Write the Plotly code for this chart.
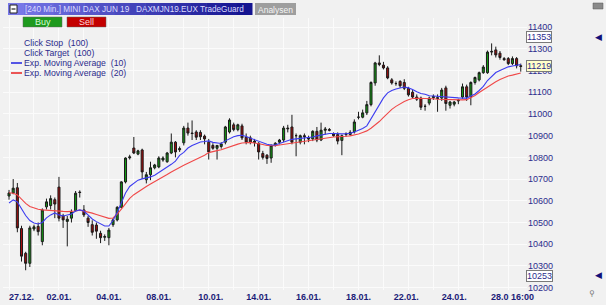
import plotly.graph_objects as go

# ---------------- data ----------------
opens = [10622, 10636, 10660, 10472, 10358, 10312, 10470, 10482, 10412, 10572,
         10578, 10605, 10663, 10530, 10505, 10520, 10555, 10640, 10558, 10520,
         10490, 10488, 10450, 10432, 10430, 10490, 10512, 10570, 10687, 10798,
         10843, 10815, 10834, 10697, 10720, 10752, 10756, 10788, 10780, 10820,
         10870, 10835, 10867, 10935, 10912, 10917, 10915, 10898, 10870, 10855,
         10842, 10850, 10870, 10917, 10950, 10928, 10945, 10893, 10890, 10868,
         10865, 10818, 10810, 10797, 10855, 10870, 10880, 10935, 10940, 10900,
         10870, 10900, 10890, 10885, 10920, 10880, 10925, 10928, 10910, 10905,
         10878, 10905, 10905, 10917, 10985, 10985, 11005, 11043, 11143, 11235,
         11225, 11212, 11157, 11140, 11150, 11145, 11118, 11100, 11078, 11073,
         11035, 11050, 11075, 11075, 11073, 11120, 11040, 11045, 11060, 11078,
         11125, 11078, 11145, 11157, 11190, 11190, 11285, 11295, 11280, 11255,
         11255, 11232, 11255, 11222]
highs = [10650, 10700, 10682, 10485, 10365, 10485, 10490, 10500, 10565, 10610,
         10625, 10615, 10710, 10540, 10530, 10560, 10645, 10648, 10580, 10530,
         10510, 10500, 10462, 10445, 10475, 10520, 10575, 10690, 10800, 10812,
         10894, 10835, 10840, 10733, 10780, 10770, 10805, 10805, 10825, 10910,
         10875, 10850, 10945, 10960, 10970, 10925, 10925, 10905, 10885, 10865,
         10855, 10870, 10945, 10980, 10960, 10955, 10955, 10910, 10900, 10885,
         10870, 10830, 10815, 10860, 10870, 10885, 10945, 10950, 10996, 10910,
         10905, 10910, 10900, 10925, 10940, 10960, 10940, 10935, 10915, 10915,
         10905, 10915, 10925, 10975, 11010, 11020, 11060, 11150, 11240, 11270,
         11240, 11220, 11165, 11150, 11155, 11160, 11125, 11110, 11090, 11080,
         11045, 11080, 11090, 11090, 11120, 11130, 11060, 11060, 11070, 11140,
         11135, 11150, 11172, 11195, 11225, 11292, 11325, 11310, 11290, 11262,
         11262, 11265, 11262, 11232]
lows = [10605, 10630, 10455, 10320, 10280, 10295, 10460, 10440, 10395, 10560,
        10560, 10520, 10505, 10475, 10390, 10500, 10550, 10615, 10525, 10480,
        10440, 10425, 10405, 10415, 10395, 10480, 10505, 10565, 10680, 10790,
        10815, 10810, 10700, 10680, 10695, 10745, 10750, 10780, 10775, 10815,
        10800, 10825, 10855, 10900, 10880, 10880, 10880, 10860, 10790, 10835,
        10790, 10840, 10860, 10910, 10920, 10920, 10880, 10860, 10860, 10850,
        10790, 10790, 10770, 10775, 10850, 10860, 10870, 10915, 10860, 10805,
        10860, 10860, 10870, 10875, 10870, 10875, 10905, 10920, 10895, 10860,
        10810, 10895, 10900, 10910, 10975, 10980, 10995, 11035, 11130, 11220,
        11205, 11160, 11135, 11130, 11120, 11110, 11080, 11070, 11060, 11018,
        11015, 11040, 11065, 11010, 11060, 11015, 11025, 11035, 11045, 11070,
        11060, 11040, 11135, 11150, 11185, 11185, 11270, 11260, 11250, 11245,
        11225, 11225, 11210, 11195]
closes = [10636, 10658, 10475, 10345, 10312, 10475, 10480, 10458, 10558, 10595,
          10610, 10585, 10520, 10512, 10515, 10548, 10635, 10638, 10535, 10500,
          10455, 10460, 10430, 10435, 10465, 10512, 10570, 10687, 10797, 10802,
          10820, 10830, 10733, 10720, 10752, 10765, 10797, 10797, 10820, 10870,
          10825, 10840, 10935, 10912, 10910, 10893, 10895, 10885, 10825, 10842,
          10855, 10862, 10940, 10972, 10928, 10950, 10890, 10870, 10870, 10875,
          10825, 10800, 10795, 10855, 10865, 10880, 10935, 10932, 10870, 10900,
          10900, 10895, 10885, 10920, 10880, 10925, 10930, 10925, 10900, 10875,
          10900, 10908, 10915, 10963, 10985, 11005, 11043, 11145, 11235, 11228,
          11212, 11166, 11143, 11140, 11130, 11118, 11088, 11078, 11068, 11031,
          11035, 11073, 11080, 11072, 11110, 11048, 11055, 11055, 11063, 11125,
          11078, 11145, 11168, 11190, 11216, 11285, 11288, 11272, 11260, 11250,
          11232, 11255, 11222, 11219]
ema10 = [10590, 10604, 10595, 10562, 10532, 10509, 10498, 10493, 10500, 10521,
         10535, 10544, 10535, 10530, 10535, 10539, 10553, 10558, 10553, 10535,
         10516, 10504, 10493, 10484, 10484, 10509, 10546, 10590, 10636, 10666,
         10682, 10695, 10701, 10705, 10710, 10718, 10730, 10741, 10754, 10768,
         10783, 10809, 10823, 10843, 10855, 10864, 10871, 10873, 10876, 10869,
         10865, 10864, 10876, 10887, 10895, 10900, 10902, 10896, 10889, 10882,
         10876, 10866, 10860, 10857, 10857, 10864, 10871, 10878, 10883, 10885,
         10887, 10889, 10892, 10894, 10899, 10903, 10907, 10910, 10910, 10908,
         10908, 10909, 10911, 10917, 10924, 10933, 10945, 10977, 11014, 11046,
         11074, 11097, 11108, 11115, 11121, 11124, 11120, 11113, 11102, 11094,
         11091, 11084, 11083, 11081, 11080, 11078, 11076, 11075, 11074, 11073,
         11073, 11083, 11092, 11108, 11127, 11154, 11175, 11191, 11200, 11210,
         11217, 11221, 11226, 11228]
ema20 = [10637, 10635, 10627, 10606, 10588, 10574, 10566, 10561, 10558, 10556,
         10554, 10553, 10553, 10551, 10550, 10551, 10553, 10557, 10553, 10548,
         10543, 10537, 10530, 10524, 10519, 10521, 10539, 10562, 10585, 10611,
         10628, 10642, 10654, 10666, 10677, 10689, 10701, 10710, 10721, 10733,
         10744, 10754, 10764, 10773, 10782, 10791, 10799, 10810, 10822, 10828,
         10831, 10835, 10842, 10848, 10854, 10861, 10866, 10869, 10869, 10866,
         10864, 10859, 10855, 10853, 10854, 10857, 10860, 10863, 10866, 10869,
         10872, 10875, 10878, 10881, 10883, 10884, 10888, 10891, 10894, 10895,
         10895, 10897, 10899, 10902, 10908, 10915, 10922, 10934, 10949, 10965,
         10984, 11003, 11021, 11035, 11047, 11057, 11065, 11071, 11072, 11072,
         11072, 11071, 11070, 11068, 11067, 11066, 11065, 11065, 11065, 11065,
         11066, 11076, 11085, 11099, 11112, 11123, 11135, 11148, 11159, 11167,
         11175, 11179, 11183, 11189]

xtick_pos = [3, 12, 24, 36, 48.5, 60, 72, 84, 95.5, 107, 121]
xtick_text = ["27.12.", "02.01.", "04.01.", "08.01.", "10.01.", "14.01.",
              "16.01.", "18.01.", "22.01.", "24.01.", "28.0 16:00"]
ytick_vals = list(range(10200, 11401, 100))
ytick_text = [str(v) for v in ytick_vals]
price_boxes = [("11353", 11353, "#ffffff"), ("11219", 11219, "#ffffc8"), ("10253", 10253, "#ffffff")]
legend_lines = ["Click Stop  (100)", "Click Target  (100)",
                "Exp. Moving Average  (10)", "Exp. Moving Average  (20)"]
title_text = "[240 Min.] MINI DAX JUN 19   DAXMJN19.EUX TradeGuard"

# ---------------- layout geometry ----------------
W, H = 606, 305
L, R, T, B = 3, 79, 18, 15
PW, PH = W - L - R, H - T - B
FONT = "Arial, Liberation Sans, sans-serif"
NAVY = "#2c2c8c"


def px(x):
    return (x - L) / PW


def py(y):
    return (H - B - y) / PH


bars = list(range(len(closes)))

fig = go.Figure()
fig.add_trace(go.Candlestick(
    x=bars, open=opens, high=highs, low=lows, close=closes,
    increasing=dict(fillcolor="#139a13", line=dict(color="#1a1a1a", width=1)),
    decreasing=dict(fillcolor="#a10d0d", line=dict(color="#1a1a1a", width=1)),
    whiskerwidth=0, hoverinfo="skip", showlegend=False))
fig.add_trace(go.Scatter(x=bars, y=ema20, mode="lines",
                         line=dict(color="#f04848", width=1.1), hoverinfo="skip", showlegend=False))
fig.add_trace(go.Scatter(x=bars, y=ema10, mode="lines",
                         line=dict(color="#3c3cf0", width=1.1), hoverinfo="skip", showlegend=False))

shapes = []
annotations = []

# title bar (stepped gradient)
n = 16
x0, x1 = 8, 252
for k in range(n):
    t = k / (n - 1)
    r = int(0x78 + (0x14 - 0x78) * t)
    g = int(0x78 + (0x14 - 0x78) * t)
    b = int(0xe8 + (0x90 - 0xe8) * t)
    shapes.append(dict(type="rect", xref="paper", yref="paper",
                       x0=px(x0 + (x1 - x0) * k / n), x1=px(x0 + (x1 - x0) * (k + 1) / n + 0.5),
                       y0=py(15), y1=py(3), fillcolor=f"rgb({r},{g},{b})", line=dict(width=0), layer="above"))
# collapse icon
shapes.append(dict(type="rect", xref="paper", yref="paper", x0=px(10), x1=px(17), y0=py(13), y1=py(5),
                   fillcolor="#ffffff", line=dict(color="#222222", width=1), layer="above"))
shapes.append(dict(type="line", xref="paper", yref="paper", x0=px(11.5), x1=px(15.5), y0=py(9), y1=py(9),
                   line=dict(color="#222222", width=1.2), layer="above"))
annotations.append(dict(text=title_text, xref="paper", yref="paper", x=px(23), y=py(9.5),
                        xanchor="left", yanchor="middle", showarrow=False,
                        font=dict(family=FONT, size=8.2, color="#dcdcff")))
# Analysen
shapes.append(dict(type="rect", xref="paper", yref="paper", x0=px(255), x1=px(296), y0=py(15), y1=py(3),
                   fillcolor="#9e9e9e", line=dict(width=0), layer="above"))
annotations.append(dict(text="Analysen", xref="paper", yref="paper", x=px(275.5), y=py(9.5),
                        xanchor="center", yanchor="middle", showarrow=False,
                        font=dict(family=FONT, size=8.5, color="#f4f4f4")))
# Buy / Sell buttons
for (bx0, bx1, col, txt, tcol) in [(23, 62, "#1e9a1e", "Buy", "#d8ffd8"), (67, 106, "#c40000", "Sell", "#ffd8d8")]:
    shapes.append(dict(type="rect", xref="paper", yref="paper", x0=px(bx0), x1=px(bx1), y0=py(27), y1=py(17),
                       fillcolor=col, line=dict(color="#606060", width=0.5), layer="above"))
    annotations.append(dict(text=txt, xref="paper", yref="paper", x=px((bx0 + bx1) / 2), y=py(22),
                            xanchor="center", yanchor="middle", showarrow=False,
                            font=dict(family=FONT, size=9, color=tcol)))

# indicator legend
leg_y = [42.5, 52.5, 63, 73]
for txt, yy in zip(legend_lines, leg_y):
    annotations.append(dict(text=txt, xref="paper", yref="paper", x=px(22), y=py(yy),
                            xanchor="left", yanchor="middle", showarrow=False,
                            font=dict(family=FONT, size=8.7, color=NAVY)))
shapes.append(dict(type="line", xref="paper", yref="paper", x0=px(11), x1=px(22), y0=py(63), y1=py(63),
                   line=dict(color="#2020e0", width=1.5)))
shapes.append(dict(type="line", xref="paper", yref="paper", x0=px(11), x1=px(22), y0=py(73), y1=py(73),
                   line=dict(color="#e82020", width=1.5)))

# price boxes on the right axis
for txt, val, col in price_boxes:
    annotations.append(dict(text=txt, xref="paper", yref="y", x=px(526), y=val,
                            xanchor="left", yanchor="middle", showarrow=False,
                            bgcolor=col, bordercolor="#7a7a7a", borderwidth=1, borderpad=0,
                            font=dict(family=FONT, size=9, color=NAVY)))

# right-side markers
for yy in [37, 275]:
    annotations.append(dict(text="◀", xref="paper", yref="paper", x=px(598), y=py(yy),
                            xanchor="center", yanchor="middle", showarrow=False,
                            font=dict(family="DejaVu Sans", size=9, color="#10107a")))
shapes.append(dict(type="rect", xref="paper", yref="paper", x0=px(593), x1=px(603), y0=py(9), y1=py(3),
                   fillcolor="#8a8a8a", line=dict(color="#555555", width=0.5)))
annotations.append(dict(text="⚲", xref="paper", yref="paper", x=px(592), y=py(293),
                        xanchor="center", yanchor="middle", showarrow=False,
                        font=dict(family="DejaVu Sans", size=8, color="#777777")))

fig.update_layout(
    width=W, height=H,
    margin=dict(l=L, r=R, t=T, b=B, pad=0),
    paper_bgcolor="#f1f1f1", plot_bgcolor="#f1f1f1",
    showlegend=False, hovermode=False,
    shapes=shapes, annotations=annotations,
    xaxis=dict(range=[-1.45, 124.5], rangeslider=dict(visible=False),
               tickmode="array", tickvals=xtick_pos, ticktext=[f"<b>{t}</b>" for t in xtick_text],
               showgrid=False, zeroline=False, showline=False, ticks="",
               tickfont=dict(family=FONT, size=9, color="#1c1c78"),
               minor=dict(tick0=0, dtick=6, showgrid=True, gridcolor="#fbfbfb", gridwidth=1)),
    yaxis=dict(range=[10189, 11442], side="right",
               tickmode="array", tickvals=ytick_vals, ticktext=ytick_text,
               showgrid=True, gridcolor="#fbfbfb", gridwidth=1, zeroline=False, showline=False,
               ticks="", tickfont=dict(family=FONT, size=9, color=NAVY)),
)

fig.write_html("out.html")
